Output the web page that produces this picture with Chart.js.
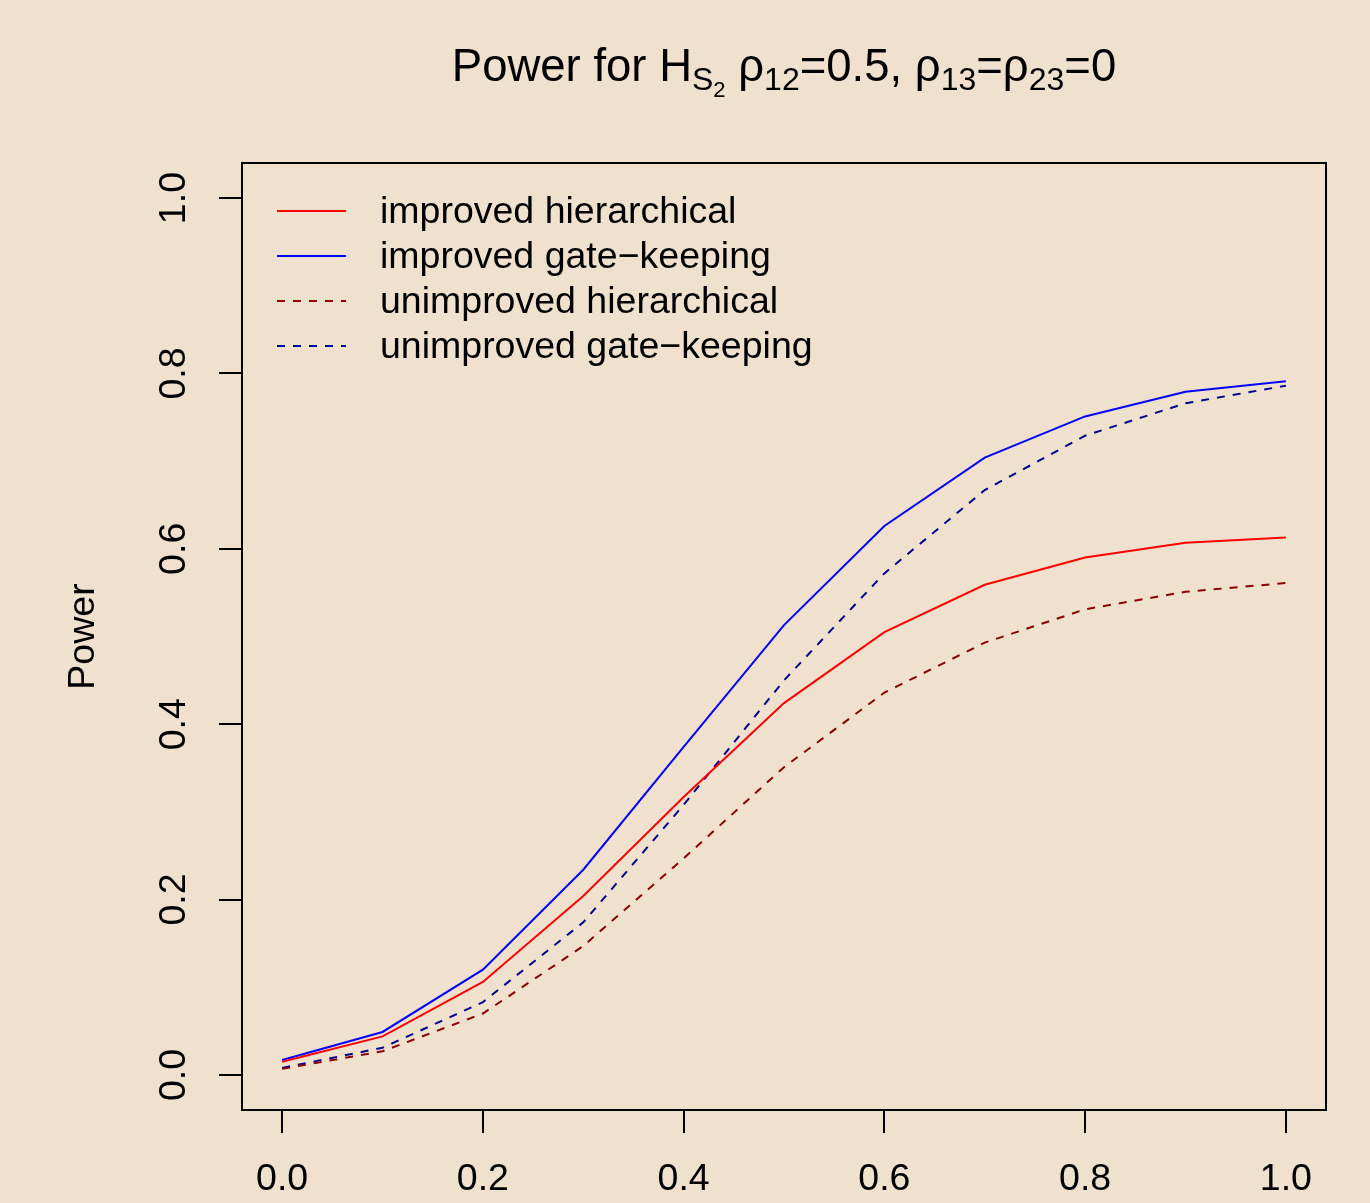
<!DOCTYPE html>
<html>
<head>
<meta charset="utf-8">
<script src="https://cdn.jsdelivr.net/npm/chart.js@4"></script>
<style>
  html, body { margin: 0; padding: 0; background: #F0E1CE; }
  #wrap { width: 1370px; height: 1203px; }
</style>
</head>
<body>
<div id="wrap"><canvas id="powerChart" width="1370" height="1203"></canvas></div>
<script>
const xValues = [0, 0.1, 0.2, 0.3, 0.4, 0.5, 0.6, 0.7, 0.8, 0.9, 1.0]
const improvedHier = [0.015, 0.044, 0.106, 0.204, 0.317, 0.424, 0.505, 0.559, 0.590, 0.607, 0.613]
const improvedGate = [0.017, 0.049, 0.120, 0.234, 0.374, 0.513, 0.626, 0.704, 0.751, 0.779, 0.791]
const unimprovedHier = [0.007, 0.027, 0.070, 0.147, 0.247, 0.351, 0.436, 0.493, 0.531, 0.551, 0.561]
const unimprovedGate = [0.008, 0.031, 0.083, 0.174, 0.308, 0.450, 0.572, 0.667, 0.729, 0.766, 0.786]
const xTicks = [0, 0.2, 0.4, 0.6, 0.8, 1.0]
const yTicks = [0, 0.2, 0.4, 0.6, 0.8, 1.0]
const seriesNames = ["improved hierarchical", "improved gate\u2212keeping", "unimproved hierarchical", "unimproved gate\u2212keeping"]

const FONT = "'Liberation Sans', Arial, sans-serif"

const toPoints = ys => xValues.map((x, i) => ({ x: x, y: ys[i] }))

function makeSet(label, data, color, dashed){
    return {
        label: label,
        data: toPoints(data),
        borderColor: color,
        borderWidth: 2,
        borderDash: dashed ? [8, 8] : [],
        pointRadius: 0,
        tension: 0,
        fill: false
    }
}

// box round the plot area, as R draws it
const boxPlugin = {
    id: "box",
    afterDraw(chart){
        const a = chart.chartArea
        const c = chart.ctx
        c.save()
        c.strokeStyle = "#000"
        c.lineWidth = 2
        c.strokeRect(a.left, a.top, a.right - a.left, a.bottom - a.top)
        c.restore()
    }
}

// legend in the top-left corner, no frame
const legendPlugin = {
    id: "rLegend",
    afterDraw(chart){
        const c = chart.ctx
        c.save()
        c.font = "37.5px " + FONT
        c.textBaseline = "middle"
        c.fillStyle = "#000"
        chart.data.datasets.forEach((ds, i) => {
            const y = 211 + i * 45
            c.strokeStyle = ds.borderColor
            c.lineWidth = 2
            c.setLineDash(ds.borderDash)
            c.beginPath()
            c.moveTo(277, y)
            c.lineTo(346, y)
            c.stroke()
            c.setLineDash([])
            c.fillText(ds.label, 380, y + 2)
        })
        c.restore()
    }
}

// title with subscripts
const titlePlugin = {
    id: "rTitle",
    afterDraw(chart){
        const c = chart.ctx
        const big = 45.5, sub = 32, sub2 = 22
        const parts = [
            ["Power for H", big, 0],
            ["S", sub, 9],
            ["2", sub2, 16],
            [" \u03c1", big, 0],
            ["12", sub, 9],
            ["=0.5, \u03c1", big, 0],
            ["13", sub, 9],
            ["=\u03c1", big, 0],
            ["23", sub, 9],
            ["=0", big, 0]
        ]
        c.save()
        c.fillStyle = "#000"
        c.textBaseline = "alphabetic"
        let total = 0
        parts.forEach(p => { c.font = p[1] + "px " + FONT; total += c.measureText(p[0]).width })
        const a = chart.chartArea
        let x = (a.left + a.right) / 2 - total / 2
        const base = 81
        parts.forEach(p => {
            c.font = p[1] + "px " + FONT
            c.fillText(p[0], x, base + p[2])
            x += c.measureText(p[0]).width
        })
        c.restore()
    }
}

const ctx = document.getElementById("powerChart").getContext("2d")

const chart = new Chart(ctx, {
    type: "line",
    data: {
        datasets: [
            makeSet(seriesNames[0], improvedHier, "#FF0000", false),
            makeSet(seriesNames[1], improvedGate, "#0000FF", false),
            makeSet(seriesNames[2], unimprovedHier, "#8B0000", true),
            makeSet(seriesNames[3], unimprovedGate, "#00008B", true)
        ]
    },
    options: {
        responsive: false,
        animation: false,
        layout: { padding: { top: 163, right: 44, left: 0, bottom: 0 } },
        plugins: {
            legend: { display: false },
            title: { display: false },
            tooltip: { enabled: false }
        },
        scales: {
            x: {
                type: "linear",
                min: -0.04,
                max: 1.04,
                afterBuildTicks: s => { s.ticks = xTicks.map(v => ({ value: v })) },
                afterFit: s => { s.height = 93 },
                grid: { drawOnChartArea: false, drawTicks: true, tickLength: 23, color: "#000", lineWidth: 2 },
                border: { display: true, color: "#000", width: 2 },
                ticks: {
                    color: "#000",
                    font: { family: FONT, size: 37.5 },
                    padding: 24,
                    maxRotation: 0,
                    autoSkip: false,
                    callback: v => v.toFixed(1)
                }
            },
            y: {
                type: "linear",
                min: -0.04,
                max: 1.04,
                afterBuildTicks: s => { s.ticks = yTicks.map(v => ({ value: v })) },
                afterFit: s => { s.width = 242 },
                grid: { drawOnChartArea: false, drawTicks: true, tickLength: 23, color: "#000", lineWidth: 2 },
                border: { display: true, color: "#000", width: 2 },
                title: {
                    display: true,
                    text: "Power",
                    color: "#000",
                    font: { family: FONT, size: 37.5 },
                    padding: { top: 61, bottom: 0 }
                },
                ticks: {
                    color: "#000",
                    font: { family: FONT, size: 37.5 },
                    padding: 18,
                    minRotation: 90,
                    maxRotation: 90,
                    crossAlign: "center",
                    autoSkip: false,
                    callback: v => v.toFixed(1)
                }
            }
        }
    },
    plugins: [boxPlugin, legendPlugin, titlePlugin]
})
</script>
</body>
</html>
